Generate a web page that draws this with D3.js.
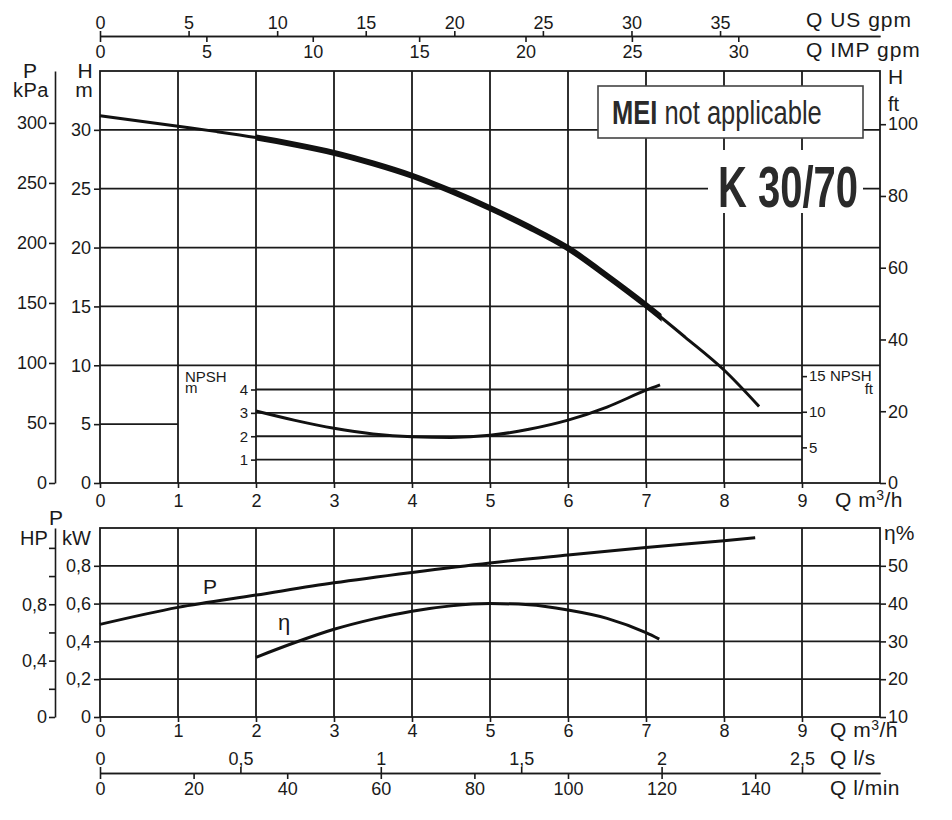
<!DOCTYPE html>
<html>
<head>
<meta charset="utf-8">
<script src="https://cdn.jsdelivr.net/npm/d3@7"></script>
<style>
body { margin: 0; background: #fff; }
svg text { font-family: "Liberation Sans", Arial, Helvetica, sans-serif; fill: #1a1a1a; }
.axis path, .axis line { stroke: #1a1a1a; stroke-width: 1.6; }
.grid line { stroke: #1a1a1a; stroke-width: 1.8; }
.frame { fill: none; stroke: #1a1a1a; stroke-width: 1.8; }
.curve { fill: none; stroke: #111; stroke-width: 3; stroke-linejoin: round; }
</style>
</head>
<body>
<svg id="chart" width="952" height="820"></svg>
<script>
// ---- data read from the curve sheet ----
// head curve H (m) against Q (m3/h)
var qHead = [0, 0.5, 1, 1.5, 2, 2.5, 3, 3.5, 4, 4.5, 5, 5.5, 6, 6.5, 7, 7.5, 8, 8.45];
var head  = [31.2, 30.75, 30.3, 29.85, 29.35, 28.75, 28.05, 27.15, 26.1, 24.8, 23.35, 21.75, 19.95, 17.6, 15.1, 12.4, 9.6, 6.5];
var workRange = [2, 7.2]; // thick part of the head curve

// NPSH (m)
var qNpsh = [2, 2.5, 3, 3.5, 4, 4.5, 5, 5.5, 6, 6.5, 7, 7.18];
var npsh  = [3.08, 2.68, 2.34, 2.1, 1.98, 1.95, 2.04, 2.3, 2.69, 3.25, 3.97, 4.2];

// shaft power P (kW)
var qPower = [0, 1, 2, 3, 4, 5, 6, 7, 8, 8.4];
var power  = [0.49, 0.58, 0.645, 0.71, 0.765, 0.815, 0.857, 0.897, 0.933, 0.949];

// efficiency (%)
var qEff = [2, 2.5, 3, 3.5, 4, 4.5, 5, 5.5, 6, 6.5, 7, 7.17];
var eff  = [25.8, 29.7, 33.2, 35.9, 38.0, 39.4, 40.0, 39.7, 38.3, 36.1, 32.3, 30.6];

// tick values
var qTicks      = [0, 1, 2, 3, 4, 5, 6, 7, 8, 9];
var qGrid       = [1, 2, 3, 4, 5, 6, 7, 8, 9];
var usGpmTicks  = [0, 5, 10, 15, 20, 25, 30, 35];
var impGpmTicks = [0, 5, 10, 15, 20, 25, 30];
var lsTicks     = [0, 0.5, 1, 1.5, 2, 2.5];
var lminTicks   = [0, 20, 40, 60, 80, 100, 120, 140];
var headTicks   = [0, 5, 10, 15, 20, 25, 30];
var headGrid    = [10, 15, 20, 25, 30];
var kpaTicks    = [0, 50, 100, 150, 200, 250, 300];
var ftTicks     = [0, 20, 40, 60, 80, 100];
var npshTicks   = [1, 2, 3, 4];
var npshFtTicks = [5, 10, 15];
var kwTicks     = [0, 0.2, 0.4, 0.6, 0.8];
var kwGrid      = [0.2, 0.4, 0.6, 0.8];
var hpTicks     = [0, 0.2, 0.4, 0.6, 0.8, 1, 1.2];
var hpLabels    = [0, 0.4, 0.8];
var effTicks    = [10, 20, 30, 40, 50];

var svg = d3.select("#chart");
var comma = d3.formatLocale({decimal: ",", thousands: ".", grouping: [3], currency: ["", ""]}).format("~g");

// ---- scales ----
var x = d3.scaleLinear().domain([0, 10]).range([100, 880]);
var xUS = d3.scaleLinear().domain([0, 10 * 4.40287]).range([100, 880]);
var xIMP = d3.scaleLinear().domain([0, 10 * 3.66615]).range([100, 880]);
var xLs = d3.scaleLinear().domain([0, 10 / 3.6]).range([100, 880]);
var xLmin = d3.scaleLinear().domain([0, 10 * 1000 / 60]).range([100, 880]);

var yH = d3.scaleLinear().domain([0, 35]).range([483, 71]);
var yKpa = d3.scaleLinear().domain([0, 35 * 9.80665]).range([483, 71]);
var yFt = d3.scaleLinear().domain([0, 35 / 0.3048]).range([483, 71]);
var yNpsh = d3.scaleLinear().domain([0, 4]).range([483, 389.5]);
var yNpshFt = d3.scaleLinear().domain([0, 4 / 0.3048]).range([483, 389.5]);

var yKw = d3.scaleLinear().domain([0, 1]).range([717, 528]);
var yHp = d3.scaleLinear().domain([0, 1 / 0.7457]).range([717, 528]);
var yEff = d3.scaleLinear().domain([10, 60]).range([717, 528]);

function styleAxis(g, size) {
	g.attr("class", "axis")
		.attr("font-size", size)
		.attr("font-family", null);
	g.selectAll("text").style("fill", "#1a1a1a");
	return g;
}

function drawAxis(axis, tx, ty, size, keepDomain) {
	var g = svg.append("g")
		.attr("transform", "translate(" + tx + "," + ty + ")")
		.call(axis);
	styleAxis(g, size);
	if (!keepDomain) g.select(".domain").remove();
	return g;
}

// ---- top flow axes ----
drawAxis(d3.axisTop(xUS).tickValues(usGpmTicks).tickSize(5).tickPadding(2).tickSizeOuter(0), 0, 36, 18, true);
drawAxis(d3.axisBottom(xIMP).tickValues(impGpmTicks).tickSize(6).tickPadding(3).tickSizeOuter(0), 0, 36, 18, true);

// ---- upper panel: grid ----
var grid = svg.append("g").attr("class", "grid");
grid.selectAll(".v1").data(qGrid).enter().append("line")
	.attr("x1", function(d) { return x(d); }).attr("x2", function(d) { return x(d); })
	.attr("y1", yH(35)).attr("y2", yH(0));
grid.selectAll(".h1").data(headGrid).enter().append("line")
	.attr("x1", x(0)).attr("x2", x(10))
	.attr("y1", function(d) { return yH(d); }).attr("y2", function(d) { return yH(d); });
grid.append("line")
	.attr("x1", x(0)).attr("x2", x(1))
	.attr("y1", yH(5)).attr("y2", yH(5));
grid.selectAll(".n1").data(npshTicks).enter().append("line")
	.attr("x1", x(2)).attr("x2", x(9))
	.attr("y1", function(d) { return yNpsh(d); }).attr("y2", function(d) { return yNpsh(d); });

svg.append("rect").attr("class", "frame")
	.attr("x", x(0)).attr("y", yH(35))
	.attr("width", x(10) - x(0)).attr("height", yH(0) - yH(35));

// ---- upper panel: axes ----
var plain = d3.format("~g");
drawAxis(d3.axisLeft(yH).tickValues(headTicks).tickSize(6).tickPadding(3), x(0), 0, 18);
drawAxis(d3.axisBottom(x).tickValues(qTicks).tickSize(5).tickPadding(6), 0, yH(0), 18);
drawAxis(d3.axisLeft(yKpa).tickValues(kpaTicks).tickSize(6).tickPadding(2).tickSizeOuter(0), 55, 0, 18, true);
drawAxis(d3.axisRight(yFt).tickValues(ftTicks).tickSize(6).tickPadding(2), x(10), 0, 18);
drawAxis(d3.axisLeft(yNpsh).tickValues(npshTicks).tickSize(5).tickPadding(3).tickFormat(plain), x(2), 0, 15);
drawAxis(d3.axisRight(yNpshFt).tickValues(npshFtTicks).tickSize(5).tickPadding(2).tickFormat(plain), x(9), 0, 15);

// ---- curves ----
var headLine = d3.line()
	.x(function(d, i) { return x(qHead[i]); })
	.y(function(d) { return yH(d); })
	.curve(d3.curveMonotoneX);
svg.append("path").attr("class", "curve").attr("d", headLine(head));

svg.append("clipPath").attr("id", "work")
	.append("rect")
	.attr("x", x(workRange[0])).attr("y", 0)
	.attr("width", x(workRange[1]) - x(workRange[0])).attr("height", 820);
svg.append("path").attr("class", "curve")
	.attr("clip-path", "url(#work)")
	.style("stroke-width", 6)
	.attr("d", headLine(head));

var npshLine = d3.line()
	.x(function(d, i) { return x(qNpsh[i]); })
	.y(function(d) { return yNpsh(d); })
	.curve(d3.curveMonotoneX);
svg.append("path").attr("class", "curve").attr("d", npshLine(npsh));

// ---- lower panel ----
var grid2 = svg.append("g").attr("class", "grid");
grid2.selectAll(".v2").data(qGrid).enter().append("line")
	.attr("x1", function(d) { return x(d); }).attr("x2", function(d) { return x(d); })
	.attr("y1", yKw(1)).attr("y2", yKw(0));
grid2.selectAll(".h2").data(kwGrid).enter().append("line")
	.attr("x1", x(0)).attr("x2", x(10))
	.attr("y1", function(d) { return yKw(d); }).attr("y2", function(d) { return yKw(d); });

svg.append("rect").attr("class", "frame")
	.attr("x", x(0)).attr("y", yKw(1))
	.attr("width", x(10) - x(0)).attr("height", yKw(0) - yKw(1));

drawAxis(d3.axisLeft(yKw).tickValues(kwTicks).tickSize(6).tickPadding(3).tickFormat(comma), x(0), 0, 18);
drawAxis(d3.axisLeft(yHp).tickValues(hpTicks).tickSize(6).tickPadding(2).tickSizeOuter(0)
	.tickFormat(function(d) { return hpLabels.indexOf(d) >= 0 ? comma(d) : ""; }), 55, 0, 18, true);
drawAxis(d3.axisRight(yEff).tickValues(effTicks).tickSize(6).tickPadding(2), x(10), 0, 18);
drawAxis(d3.axisBottom(x).tickValues(qTicks).tickSize(5).tickPadding(2), 0, yKw(0), 18);

var powerLine = d3.line()
	.x(function(d, i) { return x(qPower[i]); })
	.y(function(d) { return yKw(d); })
	.curve(d3.curveMonotoneX);
svg.append("path").attr("class", "curve").attr("d", powerLine(power));

var effLine = d3.line()
	.x(function(d, i) { return x(qEff[i]); })
	.y(function(d) { return yEff(d); })
	.curve(d3.curveMonotoneX);
svg.append("path").attr("class", "curve").attr("d", effLine(eff));

// ---- bottom flow axes ----
drawAxis(d3.axisTop(xLs).tickValues(lsTicks).tickSize(6).tickPadding(2).tickSizeOuter(0).tickFormat(comma), 0, 773, 18, true);
drawAxis(d3.axisBottom(xLmin).tickValues(lminTicks).tickSize(6).tickPadding(3).tickSizeOuter(0), 0, 773, 18, true);

// ---- labels ----
function label(txt, lx, ly, size, anchor) {
	return svg.append("text")
		.attr("x", lx).attr("y", ly)
		.attr("font-size", size)
		.attr("text-anchor", anchor || "start")
		.text(txt);
}
function flowLabel(lx, ly) {
	var t = svg.append("text").attr("x", lx).attr("y", ly).attr("font-size", 21).attr("letter-spacing", 0.5);
	t.append("tspan").text("Q m");
	t.append("tspan").attr("font-size", 14).attr("dy", -7).text("3");
	t.append("tspan").attr("dy", 7).text("/h");
}

label("Q US gpm", 806, 27, 21).attr("letter-spacing", 1);
label("Q IMP gpm", 806, 57, 21).attr("letter-spacing", 1);
label("P", 30, 78, 21, "middle");
label("kPa", 31, 97, 20, "middle").attr("letter-spacing", 0.5);
label("H", 85, 78, 21, "middle");
label("m", 84, 97, 21, "middle");
label("H", 888, 84, 21);
label("ft", 888, 111, 20);
label("NPSH", 185, 382, 15);
label("m", 185, 393, 15);
label("NPSH", 830, 381, 15);
label("ft", 873, 394, 15, "end");
flowLabel(835, 507);

label("P", 56, 525, 21, "middle");
label("HP", 20, 545, 20);
label("kW", 62, 545, 20);
label("\u03b7%", 884, 540, 21);
label("P", 210, 594, 21, "middle");
label("\u03b7", 284, 630, 22, "middle");
flowLabel(830, 737);
label("Q l/s", 830, 765, 21).attr("letter-spacing", 0.5);
label("Q l/min", 830, 795, 21).attr("letter-spacing", 0.5);

// ---- MEI box ----
svg.append("rect")
	.attr("x", 598).attr("y", 86).attr("width", 265).attr("height", 52)
	.attr("fill", "#fff").attr("stroke", "#444").attr("stroke-width", 1.6);
var mei = svg.append("text")
	.attr("transform", "translate(612,124) scale(0.75,1)")
	.attr("font-size", 34)
	.style("fill", "#2a2a2a");
mei.append("tspan").attr("font-weight", "bold").text("MEI");
mei.append("tspan").text(" not applicable");

// ---- model name ----
svg.append("rect")
	.attr("x", 708).attr("y", 150).attr("width", 155).attr("height", 63)
	.attr("fill", "#fff");
svg.append("text")
	.attr("transform", "translate(718,207) scale(0.69,1)")
	.attr("font-size", 58)
	.attr("font-weight", "bold")
	.style("fill", "#2a2a2a")
	.text("K 30/70");
</script>
</body>
</html>
